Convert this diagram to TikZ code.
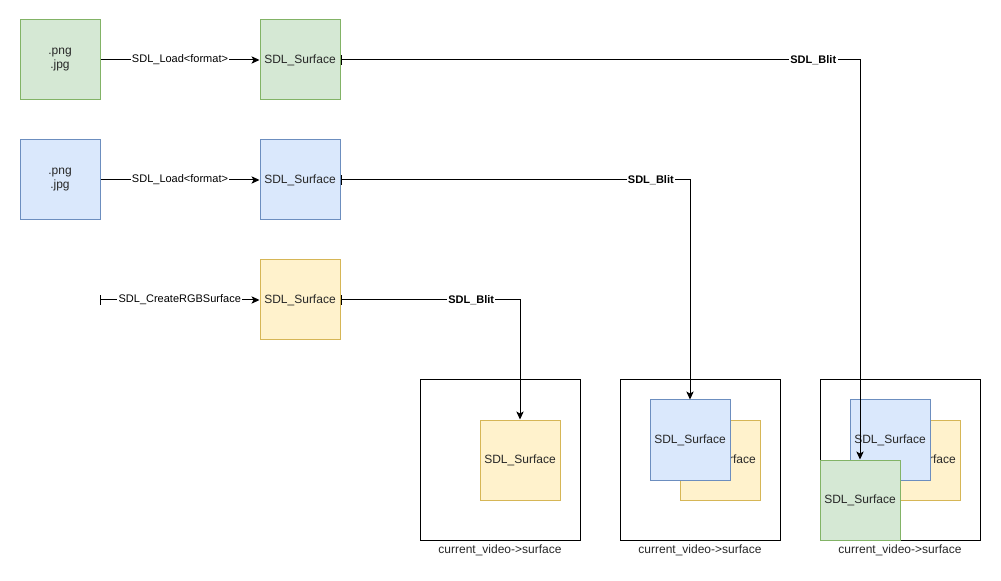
\documentclass[tikz,border=0pt]{standalone}
\usepackage{fontspec}
\setmainfont{Liberation Sans}
\usetikzlibrary{arrows.meta}
\definecolor{gfill}{HTML}{D5E8D4}
\definecolor{gdraw}{HTML}{82B366}
\definecolor{bfill}{HTML}{DAE8FC}
\definecolor{bdraw}{HTML}{6C8EBF}
\definecolor{yfill}{HTML}{FFF2CC}
\definecolor{ydraw}{HTML}{D6B656}
\begin{document}
\begin{tikzpicture}[x=0.75pt,y=-0.75pt,
  box/.style={minimum width=60pt,minimum height=60pt,inner sep=0pt,line width=0.75pt,
    font=\fontsize{9}{10.5}\selectfont,align=center,text=black!85},
  greenbox/.style={box,fill=gfill,draw=gdraw},
  bluebox/.style={box,fill=bfill,draw=bdraw},
  yellowbox/.style={box,fill=yfill,draw=ydraw},
  frame/.style={draw=black,fill=white,minimum width=120pt,minimum height=120pt,inner sep=0pt,line width=0.75pt},
  caption/.style={font=\fontsize{9}{10}\selectfont,inner sep=0pt,text=black!85,anchor=north},
  conn/.style={line width=0.75pt,-{Stealth[length=6pt,width=5.5pt,inset=1.5pt]}},
  barconn/.style={line width=0.75pt,{Bar[width=7pt,line width=0.75pt]}-{Stealth[length=6pt,width=5.5pt,inset=1.5pt]}},
  lbl/.style={fill=white,inner sep=1pt,font=\fontsize{8.25}{9}\selectfont},
  blbl/.style={lbl,font=\fontsize{8.25}{9}\selectfont\bfseries},
]
\useasboundingbox (0,0) rectangle (1001,581);

% sources
\node[greenbox] (png1) at (60,60) {.png\\.jpg};
\node[greenbox] (s1) at (300,60) {SDL\_Surface};
\node[bluebox] (png2) at (60,180) {.png\\.jpg};
\node[bluebox] (s2) at (300,180) {SDL\_Surface};
\node[yellowbox] (s3) at (300,300) {SDL\_Surface};
\coordinate (start) at (100,300);

% frames
\node[frame] (f1) at (500,460) {};
\node[frame] (f2) at (700,460) {};
\node[frame] (f3) at (900,460) {};
\node[caption] (c1) at ([yshift=-3pt]f1.south) {current\_video->surface};
\node[caption] (c2) at ([yshift=-3pt]f2.south) {current\_video->surface};
\node[caption] (c3) at ([yshift=-3pt]f3.south) {current\_video->surface};

% contents
\node[yellowbox] (y1) at (520,460) {SDL\_Surface};
\node[yellowbox] (y2) at (720,460) {SDL\_Surface};
\node[bluebox] (b2) at (690,440) {SDL\_Surface};
\node[yellowbox] (y3) at (920,460) {SDL\_Surface};
\node[bluebox] (b3) at (890,440) {SDL\_Surface};
\node[greenbox] (g3) at (860,500) {SDL\_Surface};

% connectors
\draw[conn] (png1) -- node[lbl] (l1) {SDL\_Load<format>} (s1);
\draw[conn] (png2) -- node[lbl] (l2) {SDL\_Load<format>} (s2);
\draw[barconn] (start) -- node[lbl] (l3) {SDL\_CreateRGBSurface} (s3);

\draw[barconn] (s1.east) -| node[blbl,pos=0.455] (b1l) {SDL\_Blit} (g3.north);
\draw[barconn] (s2.east) -| node[blbl,pos=0.444] (b2l) {SDL\_Blit} (b2.north);
\draw[barconn] (s3.east) -| node[blbl,pos=0.364] (b3l) {SDL\_Blit} (y1.north);
\end{tikzpicture}
\end{document}
